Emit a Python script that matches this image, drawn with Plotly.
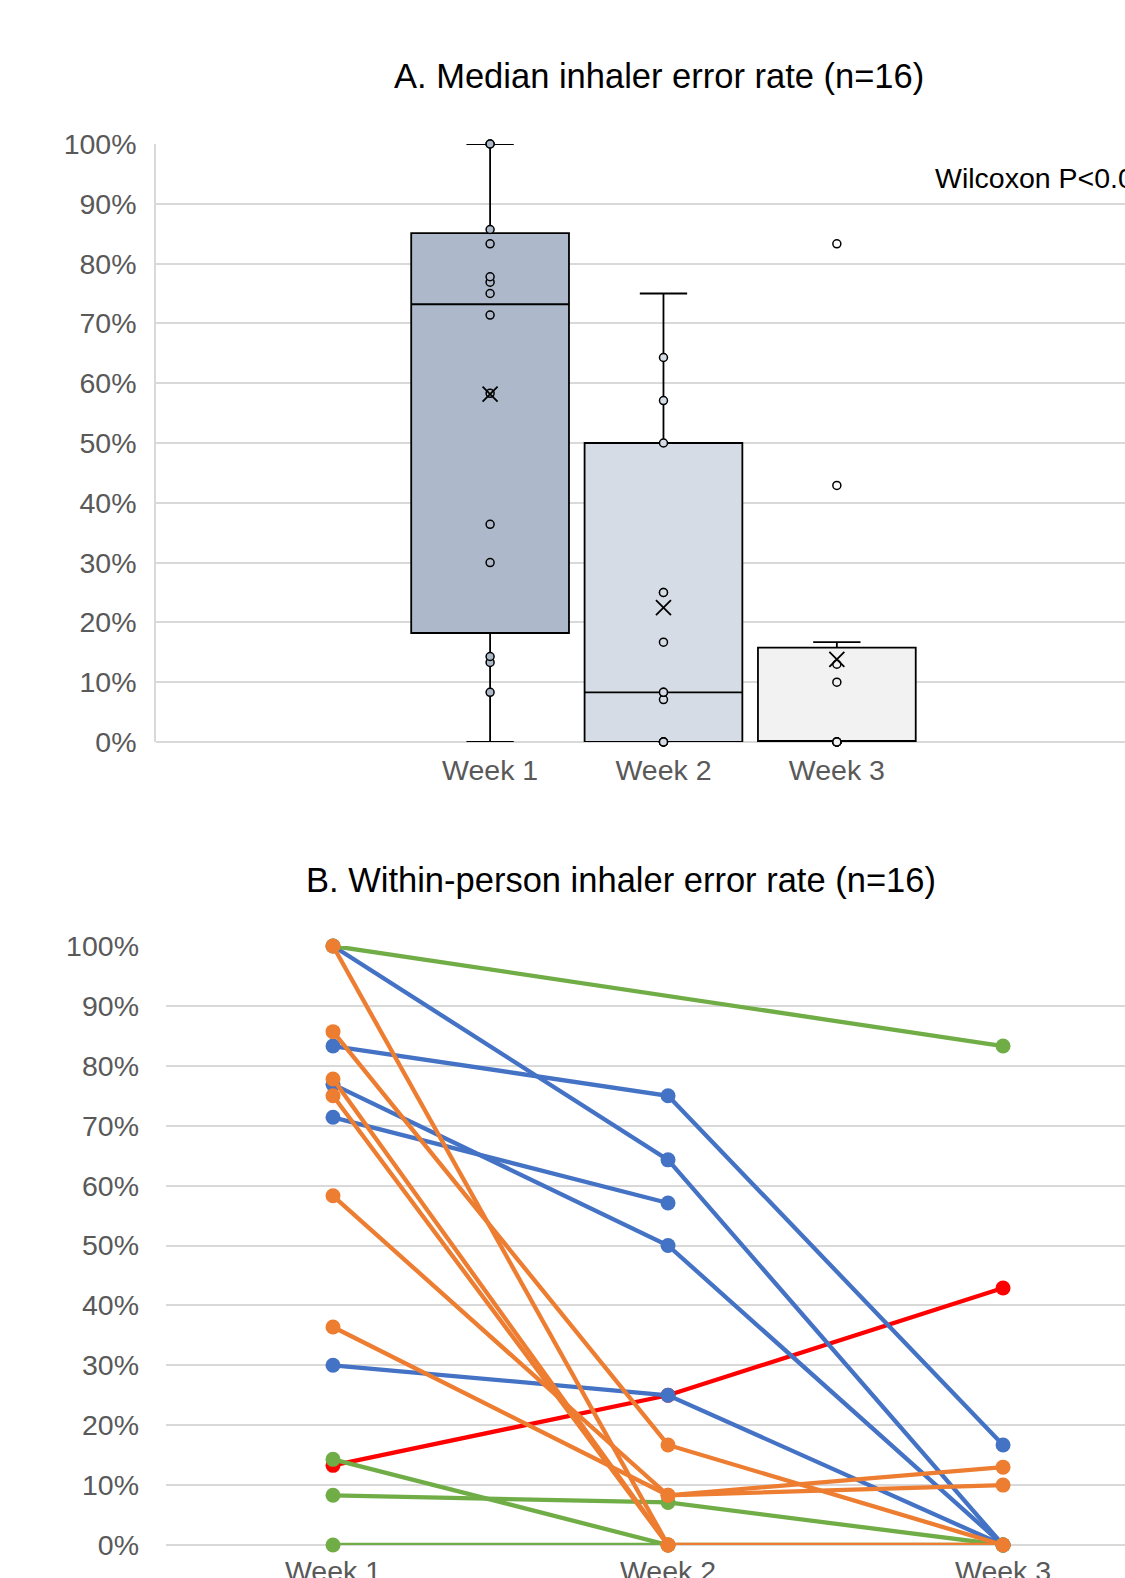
import numpy as np
import plotly.graph_objects as go

weeks = ["Week 1", "Week 2", "Week 3"]

# Within-person error rates (fractions); None = not assessed
red_people = [[0.133, 0.25, 0.429]]
blue_people = [
    [1.0, 0.643, 0.0],
    [0.833, 0.75, 0.167],
    [0.769, 0.50, 0.0],
    [0.714, 0.571, None],
    [0.30, 0.25, 0.0],
]
green_people = [
    [1.0, None, 0.833],
    [0.143, 0.0, 0.0],
    [0.083, 0.071, 0.0],
    [0.0, 0.0, None],
]
orange_people = [
    [1.0, 0.0, None],
    [0.857, 0.167, 0.0],
    [0.778, 0.0, None],
    [0.75, 0.0, 0.0],
    [0.583, 0.083, 0.13],
    [0.364, 0.083, 0.10],
]

box_fills = ["#ADB9CA", "#D6DCE5", "#F2F2F2"]
line_colors = {"red": "#FF0000", "blue": "#4472C4", "green": "#70AD47", "orange": "#ED7D31"}

title_a = "A. Median inhaler error rate (n=16)"
title_b = "B. Within-person inhaler error rate (n=16)"
note_a = "Wilcoxon P<0.001"

all_people = red_people + blue_people + green_people + orange_people
week_values = [[p[i] for p in all_people if p[i] is not None] for i in range(3)]


def excl_quantile(sorted_vals, q):
    n = len(sorted_vals)
    pos = q * (n + 1)
    lo = int(np.floor(pos))
    frac = pos - lo
    lo = min(max(lo, 1), n)
    hi = min(lo + 1, n)
    return sorted_vals[lo - 1] + frac * (sorted_vals[hi - 1] - sorted_vals[lo - 1])


def box_stats(vals):
    s = sorted(vals)
    q1, med, q3 = excl_quantile(s, 0.25), excl_quantile(s, 0.5), excl_quantile(s, 0.75)
    iqr = q3 - q1
    inside = [v for v in s if q1 - 1.5 * iqr <= v <= q3 + 1.5 * iqr]
    outliers = [v for v in s if v not in inside]
    inner = list(inside)
    inner.remove(min(inside))
    inner.remove(max(inside))
    return dict(q1=q1, median=med, q3=q3, lo=min(inside), hi=max(inside),
                mean=float(np.mean(vals)), inner=inner, outliers=outliers)


W, H = 1125, 1578
B = 33
PH = H - B


def py(pix):
    return (PH - pix) / PH


FONT = "Liberation Sans, Arial, sans-serif"
fig = go.Figure()

# Panel A: box plots (Excel-style exclusive quartiles)
for i, wk in enumerate(weeks):
    st = box_stats(week_values[i])
    fig.add_trace(go.Box(
        x=[wk], q1=[st["q1"]], median=[st["median"]], q3=[st["q3"]],
        lowerfence=[st["lo"]], upperfence=[st["hi"]],
        name=wk, xaxis="x", yaxis="y",
        boxpoints=False,
        fillcolor=box_fills[i],
        line=dict(color="black", width=1.8),
        width=0.91, whiskerwidth=0.3,
        showlegend=False, hoverinfo="y",
    ))
    pts = st["inner"]
    fig.add_trace(go.Scatter(
        x=[wk] * len(pts), y=pts, mode="markers",
        xaxis="x", yaxis="y", cliponaxis=False,
        marker=dict(color=box_fills[i], size=8, line=dict(color="black", width=1.5)),
        showlegend=False, hoverinfo="y",
    ))
    outs = st["outliers"]
    if outs:
        fig.add_trace(go.Scatter(
            x=[wk] * len(outs), y=outs, mode="markers",
            xaxis="x", yaxis="y", cliponaxis=False,
            marker=dict(color="white", size=8, line=dict(color="black", width=1.5)),
            showlegend=False, hoverinfo="y",
        ))
    fig.add_trace(go.Scatter(
        x=[wk], y=[st["mean"]], mode="markers",
        xaxis="x", yaxis="y",
        marker=dict(symbol="x-thin", size=15, line=dict(color="black", width=1.8)),
        showlegend=False, hoverinfo="y",
    ))

# Panel B: within-person lines
groups = [("red", red_people), ("blue", blue_people), ("green", green_people), ("orange", orange_people)]
for cname, people in groups:
    for p in people:
        fig.add_trace(go.Scatter(
            x=weeks, y=p, mode="lines+markers",
            xaxis="x2", yaxis="y2",
            connectgaps=True, cliponaxis=False,
            line=dict(color=line_colors[cname], width=4.3),
            marker=dict(color=line_colors[cname], size=15),
            showlegend=False,
        ))

ticks = [i / 10 for i in range(11)]
tickfont = dict(family=FONT, size=28.5, color="#595959")

fig.update_layout(
    width=W, height=H,
    margin=dict(l=0, r=0, t=0, b=B, autoexpand=False),
    paper_bgcolor="white", plot_bgcolor="white",
    font=dict(family=FONT, size=28, color="#595959"),
    xaxis=dict(domain=[156 / W, 1.0], type="category", categoryarray=weeks,
               range=[-1.927, 3.662], showgrid=False, zeroline=False, showline=False,
               ticks="", ticklabelstandoff=8, tickfont=tickfont,
               automargin=False, anchor="y"),
    yaxis=dict(domain=[py(742), py(144)], range=[0, 1], tickvals=ticks, tickformat=".0%",
               showgrid=True, gridcolor="#D9D9D9", gridwidth=1.5,
               zeroline=True, zerolinecolor="#D9D9D9", zerolinewidth=1.5,
               showline=True, linecolor="#D9D9D9", linewidth=1.5,
               ticks="", ticklabelstandoff=12, tickfont=tickfont,
               automargin=False, anchor="x"),
    xaxis2=dict(domain=[166 / W, 1.0], type="category", categoryarray=weeks,
                range=[-0.4985, 2.364], showgrid=False, zeroline=False, showline=False,
                ticks="", ticklabelstandoff=6, tickfont=tickfont,
                automargin=False, anchor="y2"),
    yaxis2=dict(domain=[0, py(946)], range=[0, 1], tickvals=ticks, tickformat=".0%",
                showgrid=True, gridcolor="#D9D9D9", gridwidth=1.5,
                zeroline=True, zerolinecolor="#D9D9D9", zerolinewidth=1.5,
                showline=False,
                ticks="", ticklabelstandoff=26, tickfont=tickfont,
                automargin=False, anchor="x2"),
    annotations=[
        dict(text=title_a, x=659 / W, y=py(75.5), xref="paper", yref="paper",
             xanchor="center", yanchor="middle", showarrow=False,
             font=dict(family=FONT, size=34.5, color="black")),
        dict(text=title_b, x=621 / W, y=py(880), xref="paper", yref="paper",
             xanchor="center", yanchor="middle", showarrow=False,
             font=dict(family=FONT, size=34.5, color="black")),
        dict(text=note_a, x=933 / W, y=py(178), xref="paper", yref="paper",
             xanchor="left", yanchor="middle", showarrow=False,
             font=dict(family=FONT, size=28.5, color="black")),
    ],
)

fig.write_html(
    "out.html",
    config={"displayModeBar": False},
    post_script="document.body.style.margin='0';document.body.style.overflow='hidden';",
)
